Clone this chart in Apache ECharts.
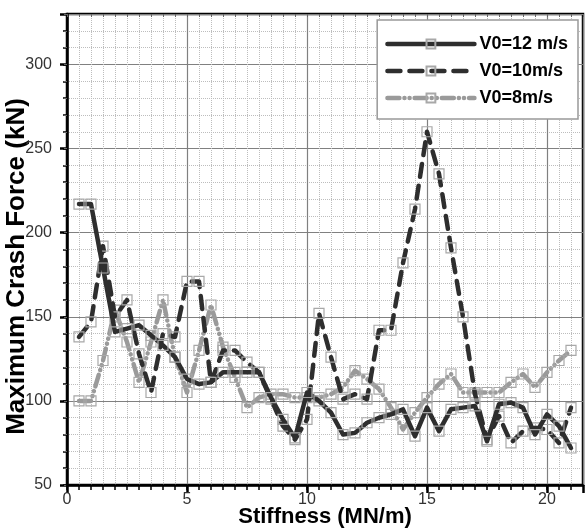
<!DOCTYPE html>
<html>
<head>
<meta charset="utf-8">
<script src="https://cdn.jsdelivr.net/npm/echarts@6/dist/echarts.min.js"></script>
<style>
html,body{margin:0;padding:0;background:#fff;}
#chart{width:585px;height:528px;}
</style>
</head>
<body>
<div id="chart"></div>
<script>
// Stiffness values (MN/m)
const stiffness = [0.5,1,1.5,2,2.5,3,3.5,4,4.5,5,5.5,6,6.5,7,7.5,8,8.5,9,9.5,10,10.5,11,11.5,12,12.5,13,13.5,14,14.5,15,15.5,16,16.5,17,17.5,18,18.5,19,19.5,20,20.5,21];
// Maximum crash force (kN)
const v12 = [217,217,179,141,143,145,139,133,126,113,110,111,117,117,117,117,102,89,78,105,100,93,80,81,87,90,92,95,79,96,82,95,96,97,76,98,99,96,80,92,85,72];
const v10 = [138,147,192,150,160,128,105,140,138,171,171,111,130,130,123,117,101,85,77,89,152,126,101,104,101,142,142,182,214,260,235,191,150,104,77,91,75,82,84,83,75,96];
const v8  = [100,100,124,154,135,111,135,160,126,105,130,157,132,114,96,102,104,104,102,102,102,104,108,118,113,107,96,83,93,102,110,116,105,105,105,105,111,116,108,117,124,130];
const seriesNames = ['V0=12 m/s','V0=10m/s','V0=8m/s'];
const xTitle = 'Stiffness (MN/m)';
const yTitle = 'Maximum Crash Force (kN)';

const FONT = '"Liberation Sans", Arial, sans-serif';
const X_MIN = 0, X_MAX = 21.5, Y_MIN = 50, Y_MAX = 330;

function pairs(ys){ return stiffness.map((x,i)=>[x, ys[i]]); }

const markerStyle = {color:'rgba(0,0,0,0)', borderColor:'#a8a8a8', borderWidth:1.2};

const chart = echarts.init(document.getElementById('chart'), null, {renderer:'canvas'});
chart.setOption({
  animation:false,
  backgroundColor:'#fff',
  grid:{left:67, top:14, width:516, height:471, outerBoundsMode:'none', containLabel:false,
        show:true, borderColor:'#000', borderWidth:2.5, backgroundColor:'rgba(0,0,0,0)'},
  legend:{
    orient:'vertical', right:7, top:20,
    backgroundColor:'#fff', borderColor:'#999', borderWidth:1.5,
    padding:[15,10,12,8], itemWidth:87, itemHeight:11, itemGap:9,
    lineStyle:{width:4.5},
    textStyle:{fontSize:18, fontWeight:'bold', color:'#000', fontFamily:FONT},
    data:seriesNames
  },
  xAxis:[
    {type:'value', min:X_MIN, max:X_MAX, interval:0.5, position:'bottom',
     axisLine:{show:true, onZero:false, lineStyle:{color:'#000', width:2.5}},
     axisTick:{show:true, inside:false, length:5, lineStyle:{color:'#000', width:1.5}},
     splitLine:{show:true, lineStyle:{color:'#bdbdbd', type:'dotted', width:1}},
     axisLabel:{show:true, fontSize:16, color:'#333', fontFamily:FONT, margin:7, showMaxLabel:false,
       formatter:function(v){ return (Math.abs(v % 5) < 1e-9) ? String(v) : ''; }},
     name:xTitle, nameLocation:'middle', nameGap:21, nameMoveOverlap:false,
     nameTextStyle:{fontSize:22, fontWeight:'bold', color:'#000', fontFamily:FONT}},
    {type:'value', min:X_MIN, max:X_MAX, interval:5, position:'bottom',
     axisLine:{show:false}, axisLabel:{show:false},
     axisTick:{show:true, inside:false, length:8, lineStyle:{color:'#000', width:2.5}},
     splitLine:{show:true, lineStyle:{color:'#808080', width:1.2}}},
    {type:'value', min:X_MIN, max:X_MAX, interval:0.5, position:'top',
     axisLine:{show:false}, axisLabel:{show:false}, splitLine:{show:false},
     axisTick:{show:true, inside:true, length:3, lineStyle:{color:'#666', width:1}}}
  ],
  yAxis:[
    {type:'value', min:Y_MIN, max:Y_MAX, interval:10, position:'left',
     axisLine:{show:true, onZero:false, lineStyle:{color:'#000', width:2.5}},
     axisTick:{show:true, inside:false, length:4, lineStyle:{color:'#000', width:1.5}},
     splitLine:{show:true, lineStyle:{color:'#bdbdbd', type:'dotted', width:1}},
     axisLabel:{show:true, fontSize:16, color:'#333', fontFamily:FONT, margin:15, showMaxLabel:false,
       formatter:function(v){ return (Math.abs(v % 50) < 1e-9) ? String(v) : ''; }},
     name:yTitle, nameLocation:'middle', nameGap:37, nameRotate:90, nameMoveOverlap:false,
     nameTextStyle:{fontSize:26, fontWeight:'bold', color:'#000', fontFamily:FONT, padding:[0,34,0,0]}},
    {type:'value', min:Y_MIN, max:Y_MAX, interval:50, position:'left',
     axisLine:{show:false}, axisLabel:{show:false},
     axisTick:{show:true, inside:false, length:7, lineStyle:{color:'#000', width:2.5}},
     splitLine:{show:true, lineStyle:{color:'#808080', width:1.2}}},
    {type:'value', min:Y_MIN, max:Y_MAX, interval:10, position:'right',
     axisLine:{show:false}, axisLabel:{show:false}, splitLine:{show:false},
     axisTick:{show:true, inside:true, length:3, lineStyle:{color:'#666', width:1}}}
  ],
  series:[
    {name:seriesNames[0], type:'line', xAxisIndex:0, yAxisIndex:0, data:pairs(v12),
     symbol:'rect', symbolSize:10, showSymbol:true, itemStyle:markerStyle, z:5,
     lineStyle:{color:'#2e2e2e', width:4.5, cap:'round', join:'round'}},
    {name:seriesNames[1], type:'line', xAxisIndex:0, yAxisIndex:0, data:pairs(v10),
     symbol:'rect', symbolSize:10, showSymbol:true, itemStyle:markerStyle, z:4,
     lineStyle:{color:'#2e2e2e', width:4.5, type:[13,9], cap:'round', join:'round'}},
    {name:seriesNames[2], type:'line', xAxisIndex:0, yAxisIndex:0, data:pairs(v8),
     symbol:'rect', symbolSize:10, showSymbol:true, itemStyle:markerStyle, z:3,
     lineStyle:{color:'#9a9a9a', width:4.5, type:[12,5,0.1,5,0.1,5], cap:'round', join:'round'}}
  ]
});
</script>
</body>
</html>
